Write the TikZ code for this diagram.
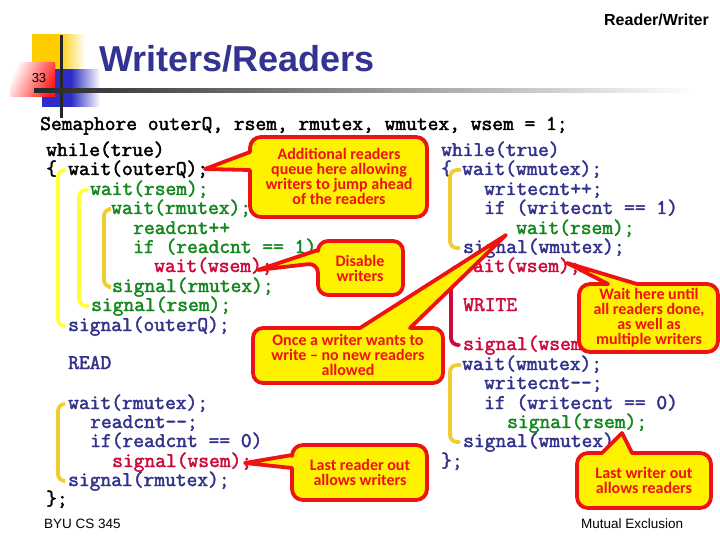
\documentclass[tikz,border=0pt]{standalone}
\usepackage{fontspec}
\setmainfont{Liberation Sans}
\newfontfamily\codefont[FakeBold=2.2]{Latin Modern Mono}
\newfontfamily\notefont{Carlito}
\usepackage{xcolor}
\usetikzlibrary{calc}
\definecolor{navyc}{RGB}{51,51,140}
\definecolor{greenc}{RGB}{20,135,30}
\definecolor{crimsonc}{RGB}{204,10,60}
\definecolor{notered}{RGB}{238,18,18}
\definecolor{titleblue}{RGB}{51,51,145}
\definecolor{goldc}{RGB}{240,205,50}
\definecolor{lemonc}{RGB}{255,255,60}
\definecolor{sunc}{RGB}{255,204,0}
\definecolor{bluesq}{RGB}{45,45,200}

\begin{document}
\begin{tikzpicture}[x=1pt,y=-1pt,
code/.style={anchor=west, inner sep=0pt, text height=13pt, text depth=3pt, font=\codefont\fontsize{20.9}{22}\selectfont},
plain/.style={code, black},
navy/.style={code, navyc},
good/.style={code, greenc},
crim/.style={code, crimsonc},
bar/.style={line width=3.8pt, rounded corners=7pt, line cap=round},
note/.style={draw=notered, fill=yellow, line width=3.8pt, line join=round},
notetext/.style={inner sep=0pt, align=center, text=notered, font=\notefont\bfseries\fontsize{16}{15}\selectfont}
]
\useasboundingbox (0,0) rectangle (720,540);

% Corner squares
\shade[left color=sunc, right color=white, middle color=sunc] (32,35) rectangle (85,70);
\shade[left color=bluesq, right color=white, middle color=bluesq] (42,70) rectangle (100,107);
\shade[left color=white, right color=red!90, shading angle=65] (10,63) rectangle (55,97);
\fill[black!85] (60,35) rectangle (62.5,118);
\shade[left color=black!85, right color=white] (34,89) rectangle (695,93);

% Heading
\node[anchor=base west, inner sep=0pt, text=titleblue, font=\bfseries\fontsize{36}{40}\selectfont] (title) at (99,72) {Writers/Readers};
\node[anchor=base east, inner sep=0pt, font=\bfseries\fontsize{16}{18}\selectfont] (section) at (709,26) {Reader/Writer};
\node[inner sep=0pt, font=\fontsize{13}{15}\selectfont] (page) at (39,78) {33};

% Left column
\node[plain] (decl) at (40,125) {Semaphore outerQ, rsem, rmutex, wmutex, wsem = 1;};
\node[plain] (lwhile) at (46,151) {while(true)};
\node[plain] (lopen) at (46,170) {\{};
\node[plain] (waitouter) at (68,170) {wait(outerQ);};
\node[good] (lwaitrsem) at (90,190) {wait(rsem);};
\node[good] (lwaitrm) at (111,209) {wait(rmutex);};
\node[good] (readinc) at (133,229) {readcnt++};
\node[good] (ifone) at (133,248) {if (readcnt == 1)};
\node[crim] (lwaitw) at (154,267) {wait(wsem);};
\node[good] (lsigrm) at (112,287) {signal(rmutex);};
\node[good] (lsigrsem) at (91,306) {signal(rsem);};
\node[navy] (sigouter) at (68,326) {signal(outerQ);};
\node[navy] (readlab) at (68,364) {READ};
\node[navy] (waitrm) at (68,404) {wait(rmutex);};
\node[navy] (readdec) at (90,423) {readcnt--;};
\node[navy] (ifzero) at (90,442) {if(readcnt == 0)};
\node[crim] (lsigw) at (112,462) {signal(wsem);};
\node[navy] (sigrm) at (68,481) {signal(rmutex);};
\node[plain] (lclose) at (46,500) {\};};

% Right column
\node[navy] (rwhile) at (441,151) {while(true)};
\node[navy] (ropen) at (441,170) {\{};
\node[navy] (waitwm) at (462,170) {wait(wmutex);};
\node[navy] (writeinc) at (484,190) {writecnt++;};
\node[navy] (ifwone) at (484,209) {if (writecnt == 1)};
\node[good] (rwaitrsem) at (516,229) {wait(rsem);};
\node[navy] (sigwm) at (463,248) {signal(wmutex);};
\node[crim] (rwaitw) at (462,267) {wait(wsem);};
\node[crim] (writelab) at (463,306) {WRITE};
\node[crim] (rsigw) at (463,345) {signal(wsem);};
\node[navy] (waitwmb) at (462,365) {wait(wmutex);};
\node[navy] (writedec) at (484,384) {writecnt--;};
\node[navy] (ifwzero) at (484,404) {if (writecnt == 0)};
\node[good] (rsigrsem) at (507,423) {signal(rsem);};
\node[navy] (sigwmb) at (463,442) {signal(wmutex);};
\node[navy] (rclose) at (441,462) {\};};

% Brackets
\draw[bar, lemonc] ([xshift=-5pt]waitouter.west) -- ++(-5,0) |- ([xshift=-4pt]sigouter.west);
\draw[bar, lemonc] ([xshift=-3pt]lwaitrsem.west) -- ++(-8,0) |- ([xshift=-3pt]lsigrsem.west);
\draw[bar, goldc] ([xshift=-2pt]lwaitrm.west) -- ++(-5,0) |- ([xshift=-3pt]lsigrm.west);
\draw[bar, goldc] ([xshift=-4pt]waitrm.west) -- ++(-6,0) |- ([xshift=-4pt]sigrm.west);
\draw[bar, goldc] ([xshift=-2pt]waitwm.west) -- ++(-10,0) |- ([xshift=-4pt]sigwm.west);
\draw[bar, crimsonc] ([xshift=-3pt]rwaitw.west) -- ++(-8,0) |- ([xshift=-4pt]rsigw.west);
\draw[bar, goldc] ([xshift=-2pt]waitwmb.west) -- ++(-10,0) |- ([xshift=-4pt]sigwmb.west);

% Callouts
\draw[note, rounded corners=11pt] (250,137) -- (427,137) -- (427,217) -- (250,217) [sharp corners] -- (250,170) -- (205,169) -- (250,152) [rounded corners=11pt] -- cycle;
\node[notetext] (addnote) at (339,176.5) {Additional readers\\queue here allowing\\writers to jump ahead\\of the readers};

\draw[note, rounded corners=10pt] (318,241) -- (403,241) -- (403,295) -- (318,295) -- (318,263) [sharp corners] -- (258,270) -- (318,250) [rounded corners=10pt] -- cycle;
\node[notetext] (disnote) at (360,268) {Disable\\writers};

\draw[note, rounded corners=10pt] (253,328) [sharp corners] -- (360,328) -- (506,235) -- (410,328) [rounded corners=10pt] -- (443,328) -- (443,383) -- (253,383) -- cycle;
\node[notetext] (oncenote) at (348,355) {Once a writer wants to\\write – no new readers\\allowed};

\draw[note, rounded corners=11pt] (579,284) [sharp corners] -- (608,284) -- (567,263) -- (637,284) [rounded corners=11pt] -- (718,284) -- (718,352) -- (579,352) -- cycle;
\node[notetext] (waitnote) at (649,318) {Wait here until\\all readers done,\\as well as\\multiple writers};

\draw[note, rounded corners=11pt] (292,445) -- (427,445) -- (427,500) -- (292,500) [sharp corners] -- (292,468) -- (245,463) -- (292,455) [rounded corners=11pt] -- cycle;
\node[notetext] (lastrd) at (360,472.5) {Last reader out\\allows writers};

\draw[note, rounded corners=11pt] (577,453) [sharp corners] -- (602,453) -- (622,433) -- (632,453) [rounded corners=11pt] -- (711,453) -- (711,508) -- (577,508) -- cycle;
\node[notetext] (lastwr) at (644,480.5) {Last writer out\\allows readers};

% Footer
\node[anchor=base west, inner sep=0pt, font=\fontsize{13.5}{15}\selectfont] (course) at (44,528) {BYU CS 345};
\node[anchor=base west, inner sep=0pt, font=\fontsize{13.5}{15}\selectfont] (topic) at (581,528) {Mutual Exclusion};
\end{tikzpicture}
\end{document}
